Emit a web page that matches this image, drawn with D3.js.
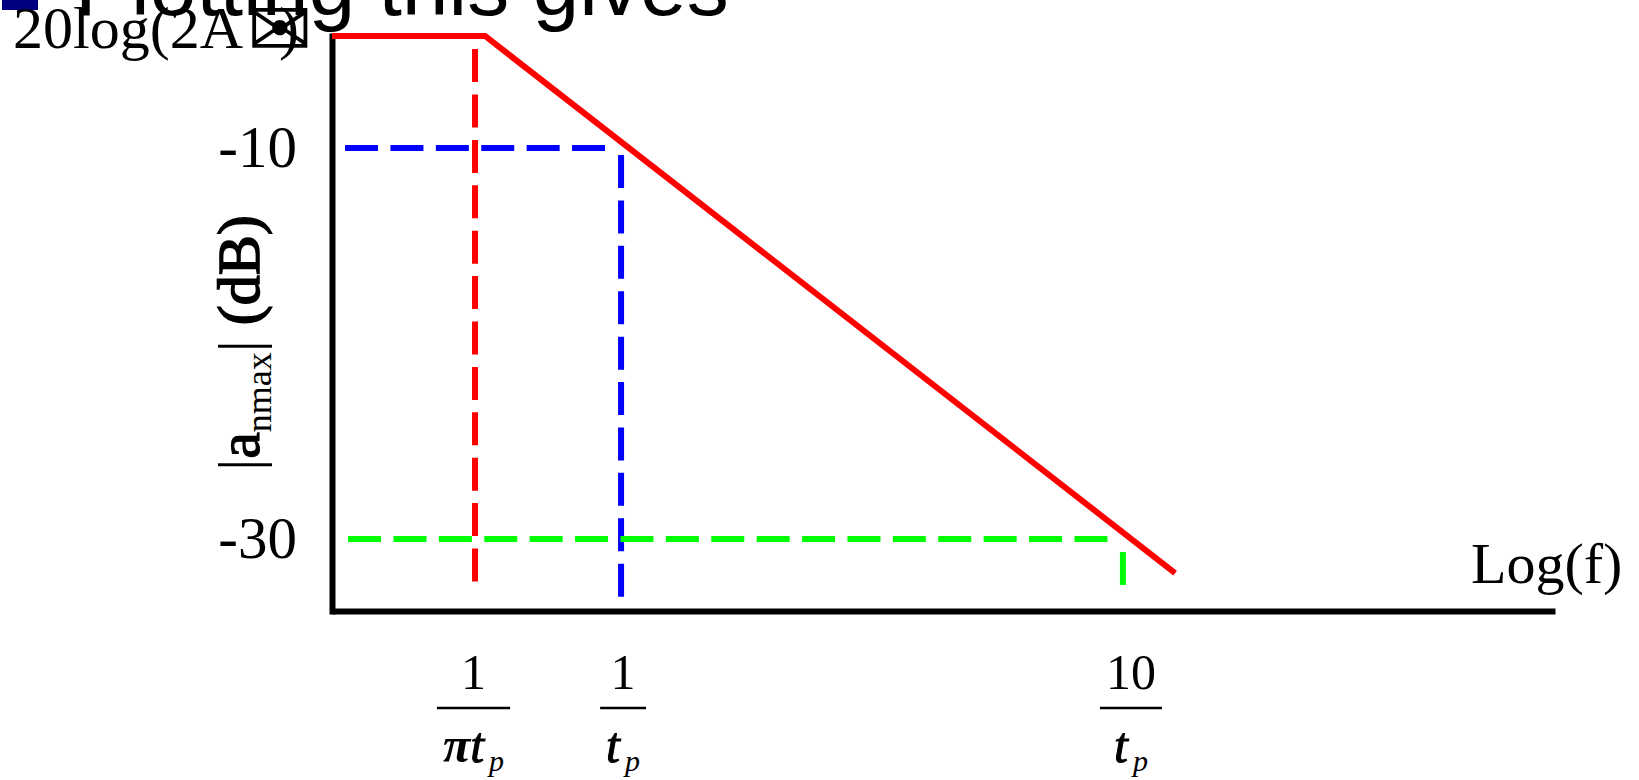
<!DOCTYPE html>
<html lang="en">
<head>
    <meta charset="UTF-8">
    <script src="https://cdn.jsdelivr.net/npm/d3@7"></script>
    <title>Plotting this gives</title>
    <style>
        body { margin: 0; background: white; }
        .serif { font-family: "Liberation Serif", "Times New Roman", serif; }
        .sans { font-family: "Liberation Sans", Arial, sans-serif; }
    </style>
</head>
<body>
    <div class="fig"></div>

    <script>
        // log(f) position in decades, 0 = 1/tp, 1 = 10/tp (as drawn on the slide)
        const xExtent = [-0.576, 1.861];
        const yExtent = [-33.68, -4.27];

        const yTicks = [-10, -30];
        const yTickLabels = ["-10", "-30"];

        const xTicks = [-0.294, 0.004, 1.016];
        const xTickNums = ["1", "1", "10"];
        const xTickDens = ["\u03c0", "", ""];
        const xTickVars = ["t", "t", "t"];
        const xTickSubs = ["p", "p", "p"];

        // asymptote of |a_nmax|
        const redX = [-0.576, -0.271, 1.104];
        const redY = [-4.27, -4.27, -31.74];

        // dashed guide lines: [x, y] pairs
        const redGuide = [[-0.291, -4.94], [-0.291, -32.2]];
        const blueGuideH = [[-0.550, -10], [-0.032, -10]];
        const blueGuideV = [[0, -10.36], [0, -32.97]];
        const greenGuideH = [[-0.544, -30], [0.972, -30]];
        const greenGuideV = [[1, -30.66], [1, -32.35]];

        const width = 1639, height = 780;

        const svg = d3.select(".fig").append("svg")
            .attr("width", width)
            .attr("height", height);

        svg.append("rect").attr("width", width).attr("height", height).attr("fill", "white");

        // slide title, cut off at the top
        svg.append("rect")
            .attr("x", 2).attr("y", -28).attr("width", 36).attr("height", 38)
            .attr("fill", "#000080");
        svg.append("text")
            .attr("class", "sans")
            .attr("x", 75).attr("y", 15)
            .attr("font-size", 84)
            .text("Plotting this gives");

        const x = d3.scaleLinear().domain(xExtent).range([332, 1555]);
        const y = d3.scaleLinear().domain(yExtent).range([611, 36]);

        // axes
        const yAxis = svg.append("g")
            .attr("transform", `translate(${x(xExtent[0])},0)`)
            .call(d3.axisLeft(y).tickValues(yTicks).tickSize(0).tickSizeOuter(0).tickPadding(35)
                .tickFormat((d, i) => yTickLabels[i]));
        yAxis.select(".domain").attr("stroke", "black").attr("stroke-width", 6).attr("stroke-linecap", "square");
        yAxis.selectAll("text").attr("class", "serif").attr("font-size", 59).attr("fill", "black");

        const xAxis = svg.append("g")
            .attr("transform", `translate(0,${y(yExtent[0])})`)
            .call(d3.axisBottom(x).tickValues([]).tickSizeOuter(0));
        xAxis.select(".domain").attr("stroke", "black").attr("stroke-width", 6);

        // fraction tick labels under the x axis
        const ticks = svg.append("g").selectAll("g")
            .data(xTicks)
            .join("g")
            .attr("transform", d => `translate(${x(d)},0)`);

        ticks.append("text")
            .attr("class", "serif num")
            .attr("text-anchor", "middle")
            .attr("y", 689)
            .attr("font-size", 50)
            .text((d, i) => xTickNums[i]);

        const den = ticks.append("text")
            .attr("class", "serif den")
            .attr("text-anchor", "middle")
            .attr("y", 762)
            .attr("font-size", 50)
            .attr("font-style", "italic");
        den.append("tspan")
            .attr("font-weight", "bold")
            .text((d, i) => xTickDens[i]);
        den.append("tspan")
            .attr("stroke", "black")
            .attr("stroke-width", 1)
            .text((d, i) => xTickVars[i]);
        den.append("tspan")
            .attr("font-size", 30)
            .attr("dx", 5)
            .attr("dy", 9)
            .text((d, i) => xTickSubs[i]);

        ticks.each(function () {
            const g = d3.select(this);
            const w = Math.max(g.select(".num").node().getBBox().width, g.select(".den").node().getBBox().width) + 12;
            g.append("line")
                .attr("x1", -w / 2).attr("x2", w / 2)
                .attr("y1", 708).attr("y2", 708)
                .attr("stroke", "black").attr("stroke-width", 2.5);
        });

        // axis titles
        svg.append("text")
            .attr("class", "serif")
            .attr("x", 1471).attr("y", 583)
            .attr("font-size", 58)
            .text("Log(f)");

        const yLabel = svg.append("text")
            .attr("class", "serif")
            .attr("transform", "translate(259,343) rotate(-90)")
            .attr("text-anchor", "middle")
            .attr("font-size", 60);
        yLabel.append("tspan").text("|");
        yLabel.append("tspan").attr("stroke", "black").attr("stroke-width", 1.2).text("a");
        yLabel.append("tspan").attr("font-size", 36).attr("dy", 12).text("nmax");
        yLabel.append("tspan").attr("dy", -12).text("| ");
        yLabel.append("tspan").attr("stroke", "black").attr("stroke-width", 1.6).text("(dB)");

        // level of the flat part
        svg.append("text")
            .attr("class", "serif")
            .attr("x", 13).attr("y", 48)
            .attr("font-size", 60)
            .text("20log(2A");

        // the unrenderable symbol shows as an envelope box on the slide; fit its ink to that box
        const envChar = "\u2709";
        const ctx = document.createElement("canvas").getContext("2d");
        ctx.font = "50px 'DejaVu Sans'";
        const m = ctx.measureText(envChar);
        const inkW = m.actualBoundingBoxLeft + m.actualBoundingBoxRight;
        const inkH = m.actualBoundingBoxAscent + m.actualBoundingBoxDescent;
        svg.append("text")
            .attr("font-family", "DejaVu Sans")
            .attr("font-size", 50)
            .attr("transform", `translate(252,6) scale(${56 / inkW},${42 / inkH}) translate(${m.actualBoundingBoxLeft},${m.actualBoundingBoxAscent})`)
            .text(envChar);

        svg.append("text")
            .attr("class", "serif")
            .attr("x", 279).attr("y", 48)
            .attr("font-size", 60)
            .text(")");

        // dashed guides
        const line = d3.line().x(d => x(d[0])).y(d => y(d[1]));
        const guides = [
            { pts: redGuide, color: "#ff0000" },
            { pts: blueGuideH, color: "#0000ff" },
            { pts: blueGuideV, color: "#0000ff" },
            { pts: greenGuideH, color: "#00ff00" },
            { pts: greenGuideV, color: "#00ff00" }
        ];
        svg.append("g").selectAll("path")
            .data(guides)
            .join("path")
            .attr("d", d => line(d.pts))
            .attr("fill", "none")
            .attr("stroke", d => d.color)
            .attr("stroke-width", 6)
            .attr("stroke-dasharray", "33 12.4");

        // the asymptote itself
        svg.append("path")
            .datum(d3.zip(redX, redY))
            .attr("d", line)
            .attr("fill", "none")
            .attr("stroke", "#ff0000")
            .attr("stroke-width", 6);
    </script>
</body>
</html>
